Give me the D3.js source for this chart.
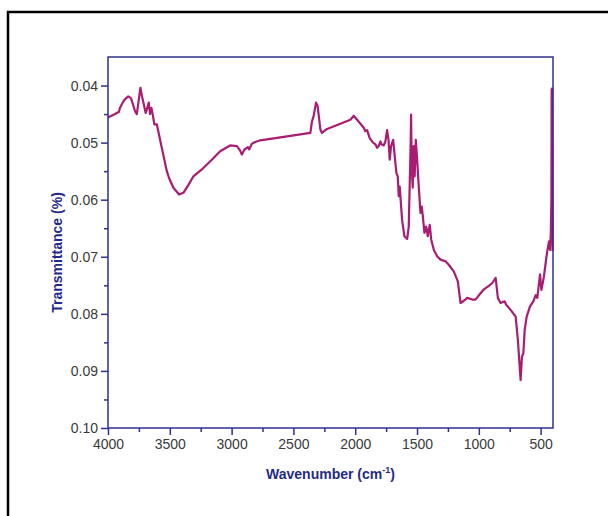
<!DOCTYPE html>
<html>
<head>
<meta charset="utf-8">
<script src="https://cdn.jsdelivr.net/npm/d3@7"></script>
<style>
  body { margin: 0; background: #fff; }
  svg { display: block; }
  .tick text { font-family: "Liberation Sans", Arial, sans-serif; font-size: 14px; fill: #3a3a3a; }
</style>
</head>
<body>
<svg id="chart" width="608" height="516"></svg>
<script>
// FTIR spectrum
var wavenumber = [4000, 3943, 3911, 3903, 3868, 3836, 3814, 3781, 3767, 3754, 3738, 3722, 3695, 3678, 3670, 3660, 3649, 3638, 3625, 3605,
    3565, 3524, 3506, 3471, 3425, 3390, 3349, 3309, 3241, 3160, 3093, 3012, 2957, 2931, 2917, 2896, 2868, 2858, 2836, 2809,
    2768, 2363, 2350, 2337, 2317, 2304, 2282, 2269, 2228, 2120, 2039, 2012, 1985, 1931, 1918, 1904, 1883, 1856, 1837, 1823,
    1810, 1796, 1788, 1770, 1756, 1742, 1731, 1721, 1710, 1693, 1683, 1667, 1656, 1648, 1640, 1621, 1602, 1580, 1567, 1559,
    1553, 1548, 1543, 1535, 1527, 1519, 1510, 1499, 1486, 1472, 1462, 1453, 1440, 1426, 1413, 1397, 1385, 1364, 1337, 1310,
    1270, 1243, 1202, 1170, 1148, 1121, 1094, 1053, 1027, 986, 959, 919, 891, 864, 846, 824, 792, 778, 743, 702,
    684, 662, 651, 640, 629, 613, 586, 559, 540, 527, 513, 505, 494, 483, 473, 456, 445, 432, 424, 418,
    413, 411, 407, 403];
var transmittance = [0.0456, 0.0450, 0.0446, 0.0439, 0.0425, 0.0419, 0.0422, 0.0445, 0.0450, 0.0430, 0.0404, 0.0422, 0.0448, 0.0436, 0.0430, 0.0450, 0.0439, 0.0451, 0.0468, 0.0468,
    0.0509, 0.0550, 0.0562, 0.0579, 0.0591, 0.0588, 0.0574, 0.0559, 0.0547, 0.0530, 0.0515, 0.0505, 0.0506, 0.0514, 0.0521, 0.0512, 0.0508, 0.0512, 0.0502, 0.0499,
    0.0496, 0.0483, 0.0463, 0.0454, 0.0430, 0.0436, 0.0477, 0.0483, 0.0476, 0.0467, 0.0460, 0.0453, 0.0460, 0.0474, 0.0480, 0.0478, 0.0492, 0.0500, 0.0503, 0.0509,
    0.0506, 0.0498, 0.0503, 0.0505, 0.0498, 0.0478, 0.0495, 0.0530, 0.0506, 0.0495, 0.0518, 0.0553, 0.0559, 0.0594, 0.0577, 0.0635, 0.0664, 0.0669, 0.0647, 0.0571,
    0.0518, 0.0451, 0.0542, 0.0579, 0.0506, 0.0559, 0.0495, 0.0530, 0.0577, 0.0623, 0.0612, 0.0629, 0.0658, 0.0647, 0.0664, 0.0644, 0.0670, 0.0688, 0.0699, 0.0705,
    0.0708, 0.0714, 0.0726, 0.0743, 0.0781, 0.0777, 0.0772, 0.0775, 0.0775, 0.0764, 0.0757, 0.0751, 0.0746, 0.0737, 0.0772, 0.0781, 0.0778, 0.0784, 0.0793, 0.0805,
    0.0846, 0.0916, 0.0875, 0.0869, 0.0828, 0.0805, 0.0787, 0.0778, 0.0767, 0.0772, 0.0746, 0.0731, 0.0758, 0.0746, 0.0734, 0.0705, 0.0688, 0.0673, 0.0688, 0.0660,
    0.0600, 0.0407, 0.0405, 0.0690];

var xTicks = [4000, 3500, 3000, 2500, 2000, 1500, 1000, 500];
var xMinor = [3750, 3250, 2750, 2250, 1750, 1250, 750];
var yTicks = [0.04, 0.05, 0.06, 0.07, 0.08, 0.09, 0.10];
var yMinor = [0.045, 0.055, 0.065, 0.075, 0.085, 0.095];

var axisColor = "#2e3192";
var lineColor = "#a91c72";
var titleColor = "#1f2a8c";

var svg = d3.select("svg#chart");
var margin = {top: 57, right: 55, bottom: 88, left: 108};
var width = +svg.attr("width") - margin.left - margin.right;
var height = +svg.attr("height") - margin.top - margin.bottom;

// outer frame of the figure (only left and top edges are inside the picture)
svg.append("rect")
    .attr("x", 8)
    .attr("y", 12)
    .attr("width", 700)
    .attr("height", 600)
    .attr("fill", "none")
    .attr("stroke", "#000")
    .attr("stroke-width", 2.5);

var g = svg.append("g").attr("transform", "translate(" + margin.left + "," + margin.top + ")");

var x = d3.scaleLinear()
    .domain([4000, 400])
    .range([0, width]);

var y = d3.scaleLinear()
    .domain([0.035, 0.10])
    .range([0, height]);

var data = wavenumber.map(function (w, i) { return {w: w, t: transmittance[i]}; });

// minor ticks first so major labels sit on top
g.append("g")
    .attr("transform", "translate(0," + height + ")")
    .call(d3.axisBottom(x).tickValues(xMinor).tickSize(4).tickFormat(""))
    .call(function (a) { a.select(".domain").remove(); a.selectAll("line").attr("stroke", axisColor).attr("stroke-width", 1.5); });

g.append("g")
    .call(d3.axisLeft(y).tickValues(yMinor).tickSize(4).tickFormat(""))
    .call(function (a) { a.select(".domain").remove(); a.selectAll("line").attr("stroke", axisColor).attr("stroke-width", 1.5); });

g.append("g")
    .attr("class", "axis axis--x")
    .attr("transform", "translate(0," + height + ")")
    .call(d3.axisBottom(x).tickValues(xTicks).tickSize(7).tickSizeOuter(0).tickPadding(4).tickFormat(d3.format("d")))
    .call(function (a) {
        a.select(".domain").remove();
        a.selectAll("line").attr("stroke", axisColor).attr("stroke-width", 1.5);
        a.selectAll("text").attr("font-family", null).attr("font-size", null);
    });

g.append("g")
    .attr("class", "axis axis--y")
    .call(d3.axisLeft(y).tickValues(yTicks).tickSize(7).tickSizeOuter(0).tickPadding(3).tickFormat(d3.format(".2f")))
    .call(function (a) {
        a.select(".domain").remove();
        a.selectAll("line").attr("stroke", axisColor).attr("stroke-width", 1.5);
        a.selectAll("text").attr("font-family", null).attr("font-size", null);
    });

// the spectrum
var line = d3.line()
    .x(function (d) { return x(d.w); })
    .y(function (d) { return y(d.t); });

g.append("path")
    .datum(data)
    .attr("d", line)
    .attr("fill", "none")
    .attr("stroke", lineColor)
    .attr("stroke-width", 2.2)
    .attr("stroke-linejoin", "round");

// plot frame
g.append("rect")
    .attr("x", 0)
    .attr("y", 0)
    .attr("width", width)
    .attr("height", height)
    .attr("fill", "none")
    .attr("stroke", axisColor)
    .attr("stroke-width", 1.5);

// axis titles
var xt = g.append("text")
    .attr("x", width / 2)
    .attr("y", height + 51)
    .attr("text-anchor", "middle")
    .attr("font-family", "Liberation Sans, Arial, sans-serif")
    .attr("font-size", "14px")
    .attr("font-weight", "bold")
    .attr("fill", titleColor);
xt.append("tspan").text("Wavenumber (cm");
xt.append("tspan").attr("dy", -6).attr("font-size", "9px").text("-1");
xt.append("tspan").attr("dy", 6).text(")");

g.append("text")
    .attr("transform", "rotate(-90)")
    .attr("x", -(height / 2) - 10)
    .attr("y", -46)
    .attr("text-anchor", "middle")
    .attr("font-family", "Liberation Sans, Arial, sans-serif")
    .attr("font-size", "14px")
    .attr("font-weight", "bold")
    .attr("fill", titleColor)
    .text("Transmittance (%)");
</script>
</body>
</html>
